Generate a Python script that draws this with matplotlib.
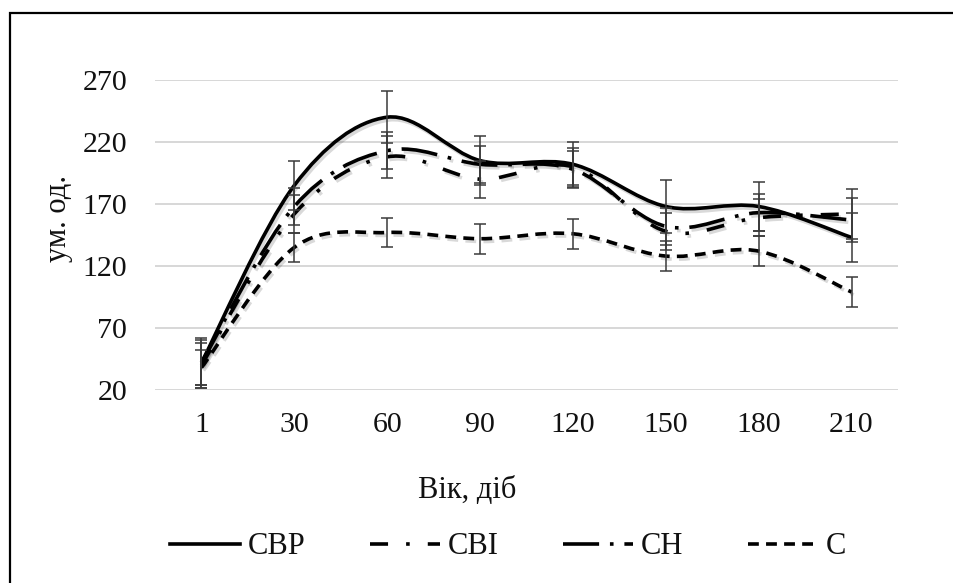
import matplotlib
matplotlib.use("Agg")
import matplotlib.pyplot as plt
import matplotlib.patheffects as pe
from matplotlib.path import Path
from matplotlib.patches import PathPatch, Rectangle
from matplotlib.lines import Line2D

plt.rcParams["font.family"] = ["Liberation Serif", "DejaVu Serif"]

# вік, діб
days = ["1", "30", "60", "90", "120", "150", "180", "210"]

cbp = [42, 185, 240, 205, 202, 168, 168, 143]
cbp_err = [20, 20, 21, 20, 18, 21, 20, 20]

cbi = [40, 162, 208, 190, 200, 148, 159, 162]
cbi_err = [18, 15, 17, 15, 15, 15, 15, 20]

ch = [42, 168, 213, 202, 198, 152, 163, 157]
ch_err = [18, 15, 15, 15, 15, 15, 15, 18]

c = [38, 135, 147, 142, 146, 128, 132, 99]
c_err = [14, 12, 12, 12, 12, 12, 12, 12]

series = [
    ("CBP", cbp, cbp_err, "-"),
    ("CBI", cbi, cbi_err, (0, (5, 5, 1, 5))),
    ("CH", ch, ch_err, (0, (10, 3, 1, 3))),
    ("C", c, c_err, (0, (3, 2))),
]


def smooth_path(xs, ys):
    # безьє як у згладженій лінії Excel
    pts = list(zip(xs, ys))
    verts = [pts[0]]
    codes = [Path.MOVETO]
    n = len(pts)
    for i in range(n - 1):
        p0 = pts[i - 1] if i > 0 else pts[i]
        p1 = pts[i]
        p2 = pts[i + 1]
        p3 = pts[i + 2] if i + 2 < n else pts[i + 1]
        c1 = (p1[0] + (p2[0] - p0[0]) / 6, p1[1] + (p2[1] - p0[1]) / 6)
        c2 = (p2[0] - (p3[0] - p1[0]) / 6, p2[1] - (p3[1] - p1[1]) / 6)
        verts += [c1, c2, p2]
        codes += [Path.CURVE4] * 3
    return Path(verts, codes)


fig = plt.figure(figsize=(9.54, 5.83), dpi=100)
ax = fig.add_axes([155 / 954, 1 - 390 / 583, 743 / 954, 310 / 583])

x = list(range(len(days)))
handles = []
for name, vals, err, ls in series:
    patch = PathPatch(smooth_path(x, vals), fill=False, edgecolor="black",
                      linewidth=2.6, linestyle=ls, capstyle="butt", zorder=3)
    patch.set_path_effects([
        pe.SimpleLineShadow(offset=(1.5, -2), shadow_color="black", alpha=0.15),
        pe.Normal()])
    ax.add_patch(patch)
    ax.errorbar(x, vals, yerr=err, fmt="none", ecolor="#3a3a3a",
                elinewidth=1.1, capsize=4, capthick=1.1, zorder=4)
    handles.append(Line2D([], [], color="black", linewidth=2.6,
                          linestyle=ls, dash_capstyle="butt"))

ax.set_xlim(-0.5, len(days) - 0.5)
ax.set_ylim(20, 270)
ax.set_yticks(range(20, 271, 50))
ax.set_xticks(x)
ax.set_xticklabels(days)
ax.grid(axis="y", color="#d4d4d4", linewidth=1.3)
ax.set_axisbelow(True)
for s in ax.spines.values():
    s.set_visible(False)
ax.tick_params(axis="both", length=0, labelsize=21.5, colors="#111111")
ax.tick_params(axis="x", pad=16)
ax.tick_params(axis="y", pad=20)

fig.text(467 / 954, 1 - 491 / 583, "Вік, діб", fontsize=22, color="#111111",
         ha="center", va="center")
fig.text(59 / 954, 1 - 218 / 583, "ум. од.", fontsize=22, color="#111111",
         ha="center", va="center", rotation=90)

fig.legend(handles, [s[0] for s in series], loc="center",
           bbox_to_anchor=(508 / 954, 1 - 547 / 583), ncol=4, frameon=False,
           fontsize=22, handlelength=2.3, handletextpad=0.25,
           columnspacing=2.1, labelcolor="#111111")

# рамка діаграми
fig.add_artist(Rectangle((10 / 954, -0.2), 2, 1.2 - 13 / 583,
                         transform=fig.transFigure, fill=False,
                         edgecolor="black", linewidth=1.6))

fig.savefig("out.png", dpi=100, facecolor="white")
